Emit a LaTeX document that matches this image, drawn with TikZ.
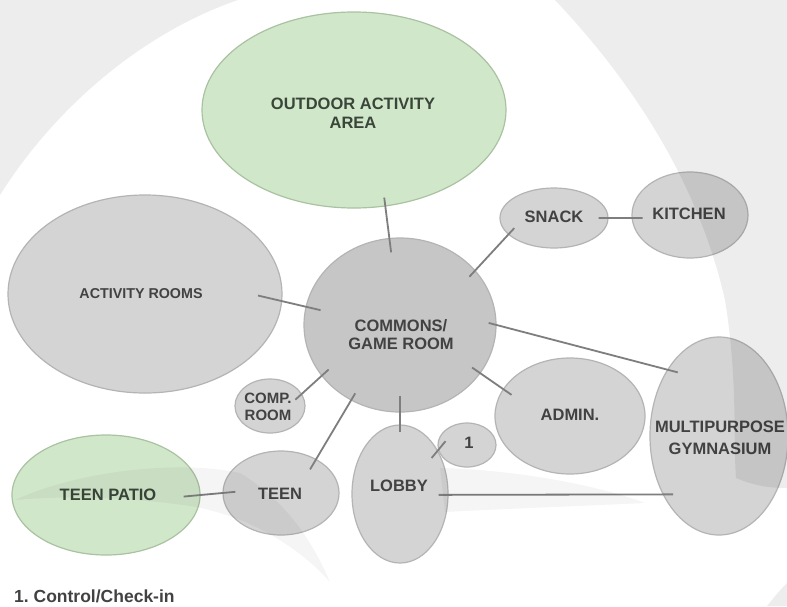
\documentclass[tikz,border=0pt]{standalone}
\usepackage{fontspec}
\setmainfont{Liberation Sans}
\usetikzlibrary{shapes.geometric}

\definecolor{roomfill}{HTML}{D4D4D4}
\definecolor{roomedge}{HTML}{B4B4B4}
\definecolor{hubfill}{HTML}{C6C6C6}
\definecolor{greenfill}{HTML}{D1E7CA}
\definecolor{greenedge}{HTML}{A9C2A1}
\definecolor{linkcol}{HTML}{7E7E7E}
\definecolor{labelcol}{HTML}{424242}
\definecolor{greenlabel}{HTML}{3A463A}

\begin{document}
\frenchspacing
\begin{tikzpicture}[x=1pt,y=-1pt,
  room/.style={ellipse, draw=roomedge, fill=roomfill, line width=1.2pt, inner sep=0pt},
  hub/.style={room, fill=hubfill},
  outdoor/.style={room, draw=greenedge, fill=greenfill},
  link/.style={draw=linkcol, line width=1.8pt},
  lbl/.style={font=\bfseries\fontsize{16.5}{19}\selectfont, text=labelcol, align=center, inner sep=0pt},
  glbl/.style={lbl, text=greenlabel},
  wmark/.style={fill=black, opacity=0.07},
  ray/.style={fill=black, opacity=0.04}
]
\useasboundingbox (0,0) rectangle (787,606);
\fill[white] (0,0) rectangle (787,606);

% rooms
\node[outdoor, minimum width=304pt, minimum height=196pt] (outdoor)  at (354,110) {};
\node[room,    minimum width=274pt, minimum height=198pt] (actrooms) at (145,294) {};
\node[hub,     minimum width=192pt, minimum height=174pt] (commons)  at (400,325) {};
\node[room,    minimum width=108pt, minimum height=60pt]  (snack)    at (554,218) {};
\node[room,    minimum width=116pt, minimum height=86pt]  (kitchen)  at (690,215) {};
\node[room,    minimum width=70pt,  minimum height=54pt]  (comp)     at (270,406) {};
\node[outdoor, minimum width=188pt, minimum height=120pt] (patio)    at (106,495) {};
\node[room,    minimum width=116pt, minimum height=84pt]  (teen)     at (281,493) {};
\node[room,    minimum width=96pt,  minimum height=138pt] (lobby)    at (400,494) {};
\node[room,    minimum width=58pt,  minimum height=44pt]  (one)      at (467,445) {};
\node[room,    minimum width=150pt, minimum height=116pt] (admin)    at (570,416) {};
\node[room,    minimum width=138pt, minimum height=198pt] (gym)      at (719,436) {};

% adjacencies
\draw[link, shorten <=-9pt,   shorten >=-14.5pt] (outdoor.-72.6) -- (commons.97.1);
\draw[link, shorten <=-24.9pt,shorten >=-15.4pt] (actrooms.-3.8) -- (commons.169.7);
\draw[link, shorten <=-8.8pt, shorten >=-8.9pt]  (commons.36.7) -- (snack.-160);
\draw[link, shorten <=-10pt,  shorten >=-11pt]   (snack.0) -- (kitchen.183);
\draw[link, shorten <=-8.2pt, shorten >=-11pt]   (commons.0) -- (gym.128.1);
\draw[link, shorten <=-10.3pt,shorten >=-10.4pt] (commons.-31.4) -- (admin.158.3);
\draw[link, shorten <=-9.6pt, shorten >=-8.8pt]  (commons.-147.7) -- (comp.21.4);
\draw[link, shorten <=-8.3pt, shorten >=-12.1pt] (commons.-123.9) -- (teen.44);
\draw[link, shorten <=-17pt,  shorten >=-8pt]    (commons.-90) -- (lobby.90);
\draw[link, shorten <=-9.8pt, shorten >=-11.5pt] (lobby.49.3) -- (one.190);
\draw[link, shorten <=-10pt,  shorten >=-10.4pt] (lobby.-1.2) -- (gym.226.8);
\draw[link, shorten <=-17pt,  shorten >=-13pt]   (patio.0) -- (teen.180);

% labels
\node[glbl] (outdoor-t) at (353,113) {OUTDOOR ACTIVITY\\AREA};
\node[lbl, font=\bfseries\fontsize{14.3}{17}\selectfont] (actrooms-t) at (141,294) {ACTIVITY ROOMS};
\node[lbl, font=\bfseries\fontsize{16.5}{18}\selectfont] (commons-t) at (401,335) {COMMONS/\\GAME ROOM};
\node[lbl] (snack-t)   at (554,217) {SNACK};
\node[lbl] (kitchen-t) at (689,214) {KITCHEN};
\node[lbl, font=\bfseries\fontsize{15}{17}\selectfont] (comp-t) at (268,407) {COMP.\\ROOM};
\node[glbl] (patio-t)  at (108,495) {TEEN PATIO};
\node[lbl] (teen-t)    at (280,494) {TEEN};
\node[lbl] (lobby-t)   at (399,486) {LOBBY};
\node[lbl] (one-t)     at (469,443) {1};
\node[lbl] (admin-t)   at (570,415) {ADMIN.};
\node[lbl, font=\bfseries\fontsize{16.5}{21.5}\selectfont] (gym-t) at (720,438) {MULTIPURPOSE\\GYMNASIUM};

\node[anchor=base west, inner sep=0pt, text=labelcol,
      font=\bfseries\fontsize{17.5}{20}\selectfont] (note) at (14,602) {1. Control/Check-in};

% faint seal in the background
\fill[wmark] (0,0) -- (238,0) .. controls (150,30) and (60,100) .. (0,195) -- cycle;
\fill[wmark] (555,0) .. controls (640,90) and (700,190) .. (725,300)
             .. controls (738,380) and (733,440) .. (736,478)
             .. controls (755,486) and (770,488) .. (787,488) -- (787,0) -- cycle;
\fill[wmark] (787,583) .. controls (778,592) and (772,600) .. (767,606) -- (787,606) -- cycle;
\fill[ray] (15,500) .. controls (80,470) and (180,460) .. (240,473)
           .. controls (285,500) and (312,540) .. (330,582)
           .. controls (300,548) and (250,516) .. (190,506)
           .. controls (120,496) and (60,496) .. (15,500) -- cycle;
\fill[ray] (440,468) .. controls (520,470) and (600,486) .. (645,503)
           .. controls (580,506) and (500,509) .. (445,512) -- cycle;
\end{tikzpicture}
\end{document}
